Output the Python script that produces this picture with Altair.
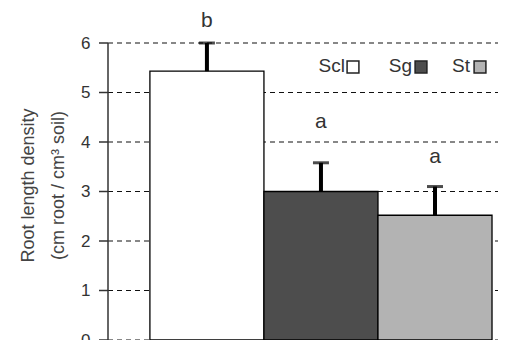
import altair as alt
import pandas as pd

# Data
groups = ["Scl", "Sg", "St"]
means = [5.43, 3.0, 2.52]
errors = [0.57, 0.58, 0.58]
letters = ["b", "a", "a"]
letter_y = [6.44, 4.4, 3.7]
colors = ["#ffffff", "#4d4d4d", "#b3b3b3"]
y_ticks = [0, 1, 2, 3, 4, 5, 6]

df = pd.DataFrame({
    "group": groups,
    "mean": means,
    "upper": [m + e for m, e in zip(means, errors)],
    "letter": letters,
    "ly": letter_y,
})
grid_df = pd.DataFrame({"v": y_ticks})
axis_df = pd.DataFrame({"lo": [y_ticks[0]], "hi": [y_ticks[-1]]})

W, H = 390, 297
FONT = "Liberation Sans"

x_enc = alt.X("group:N", sort=groups,
              scale=alt.Scale(paddingInner=0, paddingOuter=0.21, align=0.875),
              axis=None)
y_scale = alt.Scale(domain=[0, 6], nice=False, zero=True)

grid = alt.Chart(grid_df).mark_rule(color="#111", strokeWidth=1.2, strokeDash=[5, 4]).encode(
    y=alt.Y("v:Q", scale=y_scale,
            axis=alt.Axis(values=y_ticks, grid=False, domain=False, ticks=False,
                          labelFontSize=17, labelColor="#333", labelFont=FONT,
                          labelPadding=18,
                          title=["Root length density", "(cm root / cm³ soil)"],
                          titleFont=FONT, titleFontSize=18, titleFontWeight="normal",
                          titleColor="#444", titleLineHeight=30, titlePadding=13,
                          titleY=142)),
    x=alt.value(0),
    x2=alt.value(W),
)

ticks = alt.Chart(grid_df).mark_rule(color="#333", strokeWidth=1.5).encode(
    y=alt.Y("v:Q", scale=y_scale),
    x=alt.value(-9),
    x2=alt.value(0),
)

domain = alt.Chart(axis_df).mark_rule(color="#333", strokeWidth=1.5).encode(
    y=alt.Y("lo:Q", scale=y_scale),
    y2="hi:Q",
    x=alt.value(0),
)

base = alt.Chart(df)

bars = base.mark_bar(stroke="black", strokeWidth=1.3).encode(
    x=x_enc,
    y=alt.Y("mean:Q", scale=y_scale),
    fill=alt.Fill("group:N", scale=alt.Scale(domain=groups, range=colors), legend=None),
)

stems = base.mark_rule(color="black", strokeWidth=4).encode(
    x=x_enc,
    y=alt.Y("mean:Q", scale=y_scale),
    y2="upper:Q",
)

caps = base.mark_tick(color="black", orient="horizontal", size=16, thickness=3).encode(
    x=x_enc,
    y=alt.Y("upper:Q", scale=y_scale),
)

labels = base.mark_text(font=FONT, fontSize=21, color="#333", baseline="middle").encode(
    x=x_enc,
    y=alt.Y("ly:Q", scale=y_scale),
    text="letter:N",
)

# custom legend (label to the left of its swatch)
leg_text_x = [237, 304, 362]
leg_sq_x = [245, 313, 372]
legend_layers = []
for g, c, tx, sx in zip(groups, colors, leg_text_x, leg_sq_x):
    ldf = pd.DataFrame({"group": [g]})
    legend_layers.append(
        alt.Chart(ldf).mark_text(font=FONT, fontSize=19, color="#333", align="right",
                                 baseline="middle").encode(
            x=alt.value(tx), y=alt.value(23), text="group:N"))
    legend_layers.append(
        alt.Chart(ldf).mark_square(fill=c, fillOpacity=1, stroke="#222", strokeWidth=1.5,
                                   size=140).encode(
            x=alt.value(sx), y=alt.value(24)))

chart = alt.layer(grid, bars, stems, caps, labels, ticks, domain, *legend_layers).properties(
    width=W, height=H,
    autosize=alt.AutoSizeParams(type="none"),
    padding={"left": 100, "top": 35, "right": 0, "bottom": 0},
    background="white",
).configure_view(stroke=None)

chart.save("out.html", embed_options={"renderer": "svg", "actions": False})
